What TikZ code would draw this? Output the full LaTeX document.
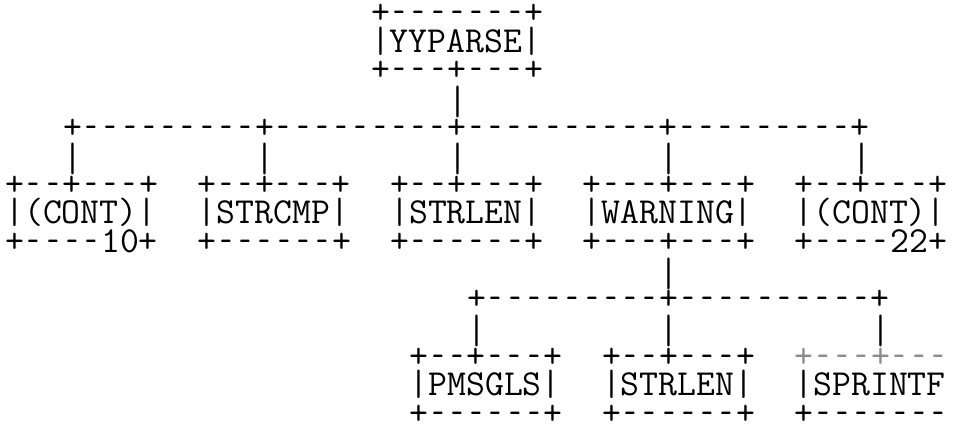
\documentclass[tikz,border=0pt]{standalone}
\usepackage{fontspec}
\usepackage{graphicx}
\setmonofont{Latin Modern Mono}
% a shorter dash, as the printer's, in a full character cell
\newcommand\ascdash{\makebox[0.525em][c]{\scalebox{0.62}[1]{-}}}
% a connector bar, a little longer than the text bar
\newcommand\ascbar{\raisebox{-5pt}{\scalebox{1}[1.12]{|}}}
% replace every - of a run by \ascdash
\def\ascproc#1{\ifx\relax#1\else\ascchar{#1}\expandafter\ascproc\fi}
\def\ascchar#1{\ifx-#1\ascdash\else#1\fi}
% one character cell: 19.25 wide, one text line: 28.64 high
\newcommand\ascline[5][]{%
  \node[asc,#1] (#2) at ({14.95+(#3)*19.25-9.625},{23.5+(#4)*28.64}) {\ascproc#5\relax};}
\newcommand\ascvert[3]{%
  \node[asc] (#1) at ({14.95+(#2)*19.25-9.625},{23.5+(#3)*28.64}) {\ascbar};}
\begin{document}
\begin{tikzpicture}[x=1pt,y=-1pt,
  asc/.style={font=\ttfamily\fontsize{36.67pt}{28.64pt}\selectfont,
    inner sep=0pt, outer sep=0pt, anchor=base west, text=black},
  faint/.style={text=black!45}]
\useasboundingbox (0,0) rectangle (959,428);
\fill[white] (0,0) rectangle (959,428);
% top box
\ascline{ytop}{19}{0}{+-------+}
\ascline{yyparse}{19}{1}{|YYPARSE|}
\ascline{ybot}{19}{2}{+---+---+}
\ascvert{vtop}{23}{3}
% main branch line
\ascline{mainline}{3}{4}{+---------+---------+----------+---------+}
\ascvert{va}{3}{5}
\ascvert{vb}{13}{5}
\ascvert{vc}{23}{5}
\ascvert{vd}{34}{5}
\ascvert{ve}{44}{5}
% second row of boxes
\ascline{contAt}{0}{6}{+--+---+}
\ascline{contA}{0}{7}{|(CONT)|}
\ascline{contAb}{0}{8}{+----10+}
\ascline{strcmpt}{10}{6}{+--+---+}
\ascline{strcmp}{10}{7}{|STRCMP|}
\ascline{strcmpb}{10}{8}{+------+}
\ascline{strlent}{20}{6}{+--+---+}
\ascline{strlen}{20}{7}{|STRLEN|}
\ascline{strlenb}{20}{8}{+------+}
\ascline{warnt}{30}{6}{+---+---+}
\ascline{warning}{30}{7}{|WARNING|}
\ascline{warnb}{30}{8}{+---+---+}
\ascline{contBt}{41}{6}{+--+---+}
\ascline{contB}{41}{7}{|(CONT)|}
\ascline{contBb}{41}{8}{+----22+}
% sub branch
\ascvert{vwarn}{34}{9}
\ascline{subline}{24}{10}{+---------+----------+}
\ascvert{vf}{24}{11}
\ascvert{vg}{34}{11}
\ascvert{vh}{45}{11}
% third row of boxes
\ascline{pmst}{21}{12}{+--+---+}
\ascline{pmsgls}{21}{13}{|PMSGLS|}
\ascline{pmsb}{21}{14}{+------+}
\ascline{strlenCt}{31}{12}{+--+---+}
\ascline{strlenC}{31}{13}{|STRLEN|}
\ascline{strlenCb}{31}{14}{+------+}
\ascline[faint]{sprt}{41}{12}{+---+---}
\ascline{sprintf}{41}{13}{|SPRINTF}
\ascline{sprb}{41}{14}{+-------}
\end{tikzpicture}
\end{document}
